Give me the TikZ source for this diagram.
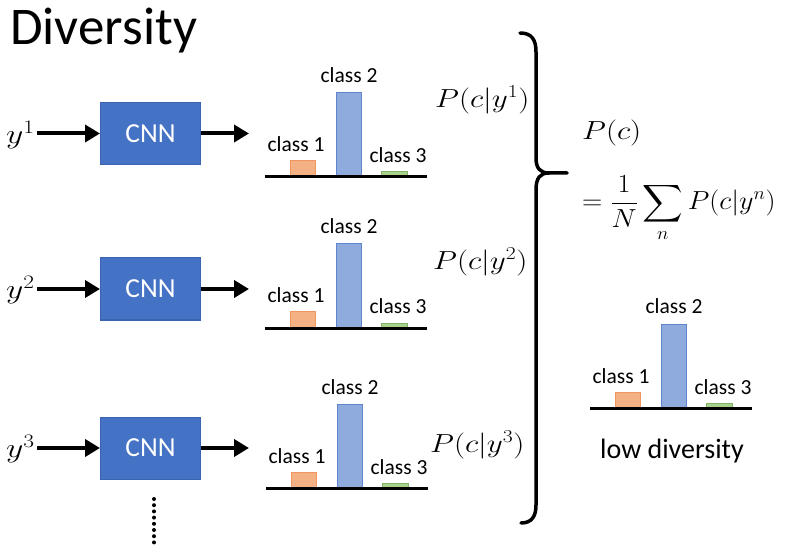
\documentclass[tikz,border=0pt]{standalone}
\usepackage{amsmath}
\usepackage{graphicx}
\usepackage{fontspec}
\setmainfont{Carlito}
\usetikzlibrary{arrows.meta}
\definecolor{cnnblue}{HTML}{4472C4}
\definecolor{cnnedge}{HTML}{3A64B0}
\definecolor{orfill}{HTML}{F4B183}
\definecolor{oredge}{HTML}{EE9560}
\definecolor{blfill}{HTML}{8FAADC}
\definecolor{bledge}{HTML}{5F86CC}
\definecolor{grfill}{HTML}{A9D18E}
\definecolor{gredge}{HTML}{80B462}
\tikzset{
  cnnbox/.style={draw=cnnedge, line width=1pt, fill=cnnblue, minimum width=100pt, minimum height=62pt, inner sep=0pt, text=white, font=\fontsize{27.5}{30}\selectfont},
  arr/.style={line width=4pt, -{Triangle[length=15pt,width=17pt]}},
  mth/.style={inner sep=0pt, font=\fontsize{26}{30}\selectfont},
  cls/.style={inner sep=0pt, anchor=base, font=\fontsize{21.5}{24}\selectfont},
  baseln/.style={line width=3pt},
  bar1/.style={draw=oredge, fill=orfill, line width=1pt},
  bar2/.style={draw=bledge, fill=blfill, line width=1pt},
  bar3/.style={draw=gredge, fill=grfill, line width=1pt},
  bracestyle/.style={line width=3.5pt, line cap=round},
}
\newcommand\barchart[3]{%
  \draw[bar1] (#2+25,#3) rectangle (#2+50,#3-16);
  \draw[bar2] (#2+71,#3) rectangle (#2+96,#3-84);
  \draw[bar3] (#2+116,#3) rectangle (#2+142,#3-5);
  \draw[baseln] (#2,#3) -- (#2+162,#3);
  \node[cls] (#1l1) at (#2+31,#3-25) {class 1};
  \node[cls] (#1l2) at (#2+84,#3-94) {class 2};
  \node[cls] (#1l3) at (#2+133,#3-14) {class 3};
}
\begin{document}
\begin{tikzpicture}[x=1pt,y=-1pt]
\fill[white] (0,0) rectangle (785,548);
\useasboundingbox (0,0) rectangle (785,548);

\node[inner sep=0pt, anchor=base west, font=\fontsize{53}{58}\selectfont] (title) at (10,45) {Diversity};

% rows
\node[cnnbox] (cnn1) at (150.5,133.5) {CNN};
\node[cnnbox] (cnn2) at (150.5,289) {CNN};
\node[cnnbox] (cnn3) at (150.5,448) {CNN};

\node[mth, anchor=east] (y1) at (35,135) {\scalebox{1.35}[1.1]{$y^1$}};
\node[mth, anchor=east] (y2) at (35,290) {\scalebox{1.35}[1.1]{$y^2$}};
\node[mth, anchor=east] (y3) at (35,449) {\scalebox{1.35}[1.1]{$y^3$}};

\coordinate (o1) at (249,133.5);
\coordinate (o2) at (249,289);
\coordinate (o3) at (249,448);

\coordinate (s1) at (37,133.5);
\coordinate (s2) at (37,289);
\coordinate (s3) at (37,448);
\draw[arr] (s1) -- (cnn1.west);
\draw[arr] (s2) -- (cnn2.west);
\draw[arr] (s3) -- (cnn3.west);
\draw[arr] (cnn1.east) -- (o1);
\draw[arr] (cnn2.east) -- (o2);
\draw[arr] (cnn3.east) -- (o3);

% dots
\coordinate (d1) at (154,499);
\coordinate (d2) at (154,545);
\draw[line width=4pt, dash pattern=on 0pt off 6.2pt, line cap=round] (d1) -- (d2);

% charts
\barchart{a}{265}{177}
\barchart{b}{265}{328}
\barchart{c}{266}{488}
\barchart{d}{590}{408}

% conditional labels
\node[mth, anchor=west] (p1) at (435,100) {\scalebox{1.25}[1.05]{$P(c|y^1)$}};
\node[mth, anchor=west] (p2) at (433,262) {\scalebox{1.25}[1.05]{$P(c|y^2)$}};
\node[mth, anchor=west] (p3) at (430,445) {\scalebox{1.25}[1.05]{$P(c|y^3)$}};

% brace
\draw[bracestyle] (520,33) .. controls (532,33) and (536,40) .. (536,52) -- (536,158)
  .. controls (536,168) and (540,173) .. (549,173) -- (567,173);
\draw[bracestyle] (549,173) .. controls (540,173) and (536,178) .. (536,190) -- (536,505)
  .. controls (536,516) and (532,523) .. (521,523);

% marginal
\node[mth, anchor=west] (pc) at (582,133) {\scalebox{1.25}[1.05]{$P(c)$}};
\node[mth, anchor=west] (sum) at (582,209) {\scalebox{1.13}[1.05]{$\displaystyle =\frac{1}{N}\sum_{n} P(c|y^n)$}};

\node[inner sep=0pt, font=\fontsize{28}{32}\selectfont] (low) at (672,451) {low diversity};
\end{tikzpicture}
\end{document}
